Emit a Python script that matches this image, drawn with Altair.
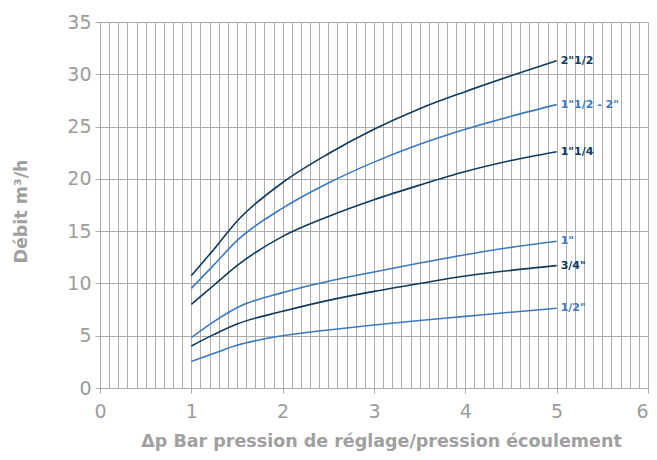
import altair as alt
import pandas as pd

x_vals = [1, 1.25, 1.5, 2, 2.5, 3, 3.5, 4, 4.5, 5]
series = {
    '2"1/2':        [10.74, 13.3, 15.95, 19.65, 22.4, 24.74, 26.71, 28.34, 29.85, 31.3],
    '1"1/2 - 2"':   [9.53, 11.8, 14.1, 17.2, 19.6, 21.6, 23.3, 24.74, 25.98, 27.1],
    '1"1/4':        [8.0, 9.85, 11.7, 14.5, 16.4, 18.0, 19.4, 20.7, 21.75, 22.6],
    '1"':           [4.81, 6.37, 7.68, 9.12, 10.2, 11.1, 11.95, 12.75, 13.45, 14.03],
    '3/4"':         [4.02, 5.13, 6.12, 7.33, 8.38, 9.24, 10.0, 10.71, 11.25, 11.7],
    '1/2"':         [2.55, 3.32, 4.08, 5.0, 5.55, 6.02, 6.45, 6.85, 7.25, 7.62],
}
colors = {
    '2"1/2': "#0e3a5e",
    '1"1/2 - 2"': "#3b79c3",
    '1"1/4': "#0e3a5e",
    '1"': "#3b79c3",
    '3/4"': "#0e3a5e",
    '1/2"': "#3b79c3",
}

rows = []
for name, ys in series.items():
    for xv, yv in zip(x_vals, ys):
        rows.append({"x": xv, "y": yv, "s": name})
df = pd.DataFrame(rows)
ends = df[df["x"] == 5].copy()

names = list(series.keys())
color_scale = alt.Scale(domain=names, range=[colors[n] for n in names])

x_ticks = [round(i / 10, 1) for i in range(0, 61)]
is_int = "abs(datum.value - round(datum.value)) < 0.001"

FONT = "DejaVu Sans"
x_axis = alt.Axis(
    values=x_ticks,
    tickCount=200,
    labelExpr=is_int + " ? format(datum.value, 'd') : ''",
    labelOverlap=False,
    labelAlign={"condition": {"test": "datum.value > 5.95", "value": "right"}, "value": "center"},
    labelFont=FONT, labelFontSize=19,
    labelColor="#9c9c9c", labelPadding=9,
    tickOpacity={"condition": {"test": is_int, "value": 1}, "value": 0},
    tickColor="#aaaaaa", tickSize=5,
    gridColor="#adadad", gridWidth=1,
    domainColor="#aaaaaa",
    title="Δp Bar pression de réglage/pression écoulement",
    titleFont=FONT, titleFontSize=17.5, titleFontWeight="bold", titleColor="#a0a0a0",
    titleX=281, titleY=53, titleBaseline="middle", titleAlign="center",
)
y_axis = alt.Axis(
    values=[0, 5, 10, 15, 20, 25, 30, 35],
    tickCount=200,
    format="d",
    labelFont=FONT, labelFontSize=19,
    labelColor="#9c9c9c", labelPadding=4,
    tickColor="#aaaaaa", tickSize=5,
    gridColor="#adadad", gridWidth=1,
    domainColor="#aaaaaa",
    title="Débit m³/h",
    titleFont=FONT, titleFontSize=17.5, titleFontWeight="bold", titleColor="#a0a0a0",
    titleX=-79, titleY=189, titleBaseline="middle", titleAlign="center", titleAngle=270,
)

base = alt.Chart(df)
lines = base.mark_line(strokeWidth=1.6, interpolate="monotone").encode(
    x=alt.X("x:Q", scale=alt.Scale(domain=[0, 6], nice=False), axis=x_axis),
    y=alt.Y("y:Q", scale=alt.Scale(domain=[0, 35], nice=False), axis=y_axis),
    color=alt.Color("s:N", scale=color_scale, legend=None),
    detail="s:N",
)
labels = alt.Chart(ends).mark_text(
    align="left", baseline="middle", dx=4, font="DejaVu Sans", fontWeight="bold", fontSize=11
).encode(
    x="x:Q", y="y:Q", text="s:N",
    color=alt.Color("s:N", scale=color_scale, legend=None),
)

chart = (lines + labels).properties(
    width=548, height=366,
    autosize=alt.AutoSizeParams(type="none"),
    padding={"left": 92, "top": 14, "right": 1, "bottom": 64},
).configure_view(stroke=None)

chart.save("out.html", embed_options={"renderer": "svg", "actions": False})
